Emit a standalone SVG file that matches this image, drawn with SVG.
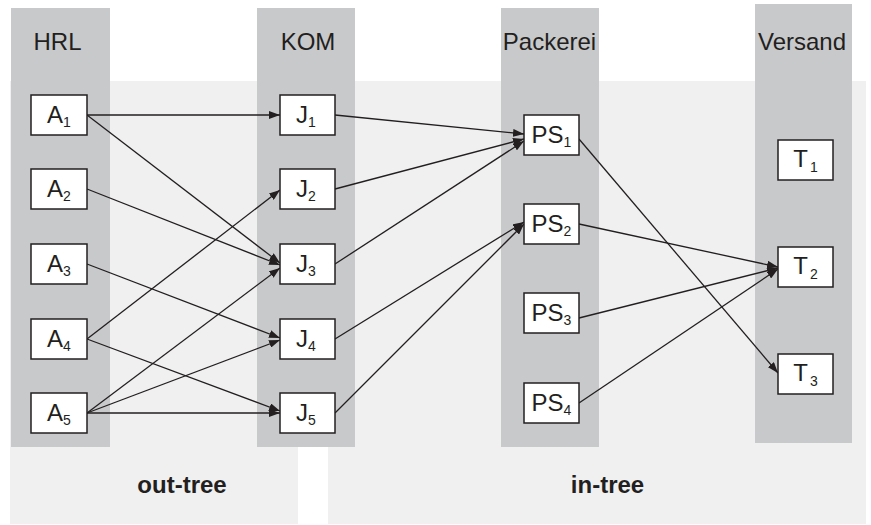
<svg xmlns="http://www.w3.org/2000/svg" width="871" height="525" viewBox="0 0 871 525">
<style>
.region{fill:#f0f0f0}
.col{fill:#c8c9cb}
.box{fill:#fff;stroke:#231f20;stroke-width:1.5}
.lbl{font-family:"Liberation Sans",Arial,sans-serif;font-size:24px;fill:#231f20;text-anchor:middle}
.sub{font-size:14px}
.head{font-family:"Liberation Sans",Arial,sans-serif;font-size:24px;fill:#231f20;text-anchor:middle}
.tree{font-family:"Liberation Sans",Arial,sans-serif;font-size:24px;font-weight:bold;fill:#231f20;text-anchor:middle}
.edge{stroke:#231f20;stroke-width:1.3;fill:none;marker-end:url(#arr)}
</style>
<defs>
<marker id="arr" viewBox="0 0 11 8" refX="11" refY="4" markerWidth="11" markerHeight="8" markerUnits="userSpaceOnUse" orient="auto">
<path d="M0,0 L11,4 L0,8 z" fill="#231f20"/>
</marker>
</defs>
<rect width="871" height="525" fill="#fff"/>
<g id="regions">
<rect class="region" x="10" y="81" width="288" height="443"/>
<rect class="region" x="328" y="81" width="538" height="443"/>
</g>
<g id="columns">
<rect class="col" x="11" y="8" width="99" height="439"/>
<rect class="col" x="257" y="8" width="98" height="439"/>
<rect class="col" x="501" y="8" width="98" height="439"/>
<rect class="col" x="755" y="4" width="97" height="439"/>
<text class="head" x="57.5" y="50">HRL</text>
<text class="head" x="308" y="50">KOM</text>
<text class="head" x="549.5" y="50">Packerei</text>
<text class="head" x="802" y="50">Versand</text>
</g>
<g id="connectors">
<line class="edge" x1="87" y1="115" x2="280" y2="115"/>
<line class="edge" x1="87" y1="115" x2="280" y2="263"/>
<line class="edge" x1="87" y1="189" x2="280" y2="265"/>
<line class="edge" x1="87" y1="264" x2="280" y2="338"/>
<line class="edge" x1="87" y1="339" x2="280" y2="190"/>
<line class="edge" x1="87" y1="339" x2="280" y2="411"/>
<line class="edge" x1="87" y1="413" x2="280" y2="268"/>
<line class="edge" x1="87" y1="413" x2="280" y2="340"/>
<line class="edge" x1="87" y1="413" x2="280" y2="413"/>
<line class="edge" x1="335" y1="115" x2="524" y2="134"/>
<line class="edge" x1="335" y1="189" x2="524" y2="139"/>
<line class="edge" x1="335" y1="264" x2="524" y2="141"/>
<line class="edge" x1="335" y1="339" x2="524" y2="222"/>
<line class="edge" x1="335" y1="413" x2="524" y2="224"/>
<line class="edge" x1="579" y1="139" x2="778" y2="373"/>
<line class="edge" x1="579" y1="224" x2="778" y2="267"/>
<line class="edge" x1="579" y1="318" x2="778" y2="268"/>
<line class="edge" x1="579" y1="403" x2="778" y2="269"/>
</g>
<g id="A1"><rect class="box" x="31" y="95" width="56" height="40"/><text class="lbl" x="59" y="123">A<tspan class="sub" dy="4">1</tspan></text></g>
<g id="A2"><rect class="box" x="31" y="169" width="56" height="40"/><text class="lbl" x="59" y="197">A<tspan class="sub" dy="4">2</tspan></text></g>
<g id="A3"><rect class="box" x="31" y="244" width="56" height="40"/><text class="lbl" x="59" y="272">A<tspan class="sub" dy="4">3</tspan></text></g>
<g id="A4"><rect class="box" x="31" y="319" width="56" height="40"/><text class="lbl" x="59" y="347">A<tspan class="sub" dy="4">4</tspan></text></g>
<g id="A5"><rect class="box" x="31" y="393" width="56" height="40"/><text class="lbl" x="59" y="421">A<tspan class="sub" dy="4">5</tspan></text></g>
<g id="J1"><rect class="box" x="280" y="95" width="55" height="40"/><text class="lbl" x="306" y="123">J<tspan class="sub" dy="4">1</tspan></text></g>
<g id="J2"><rect class="box" x="280" y="169" width="55" height="40"/><text class="lbl" x="306" y="197">J<tspan class="sub" dy="4">2</tspan></text></g>
<g id="J3"><rect class="box" x="280" y="244" width="55" height="40"/><text class="lbl" x="306" y="272">J<tspan class="sub" dy="4">3</tspan></text></g>
<g id="J4"><rect class="box" x="280" y="319" width="55" height="40"/><text class="lbl" x="306" y="347">J<tspan class="sub" dy="4">4</tspan></text></g>
<g id="J5"><rect class="box" x="280" y="393" width="55" height="40"/><text class="lbl" x="306" y="421">J<tspan class="sub" dy="4">5</tspan></text></g>
<g id="PS1"><rect class="box" x="524" y="115" width="55" height="40"/><text class="lbl" x="551.5" y="143">PS<tspan class="sub" dy="4">1</tspan></text></g>
<g id="PS2"><rect class="box" x="524" y="204" width="55" height="40"/><text class="lbl" x="551.5" y="232">PS<tspan class="sub" dy="4">2</tspan></text></g>
<g id="PS3"><rect class="box" x="524" y="293" width="55" height="40"/><text class="lbl" x="551.5" y="321">PS<tspan class="sub" dy="4">3</tspan></text></g>
<g id="PS4"><rect class="box" x="524" y="383" width="55" height="40"/><text class="lbl" x="551.5" y="411">PS<tspan class="sub" dy="4">4</tspan></text></g>
<g id="T1"><rect class="box" x="778" y="140" width="55" height="40"/><text class="lbl" x="805.5" y="167">T<tspan class="sub" dx="2" dy="5">1</tspan></text></g>
<g id="T2"><rect class="box" x="778" y="247" width="55" height="40"/><text class="lbl" x="805.5" y="274">T<tspan class="sub" dx="2" dy="5">2</tspan></text></g>
<g id="T3"><rect class="box" x="778" y="354" width="55" height="40"/><text class="lbl" x="805.5" y="381">T<tspan class="sub" dx="2" dy="5">3</tspan></text></g>
<g id="labels">
<text class="tree" x="182" y="493">out-tree</text>
<text class="tree" x="607.5" y="493">in-tree</text>
</g>
</svg>
